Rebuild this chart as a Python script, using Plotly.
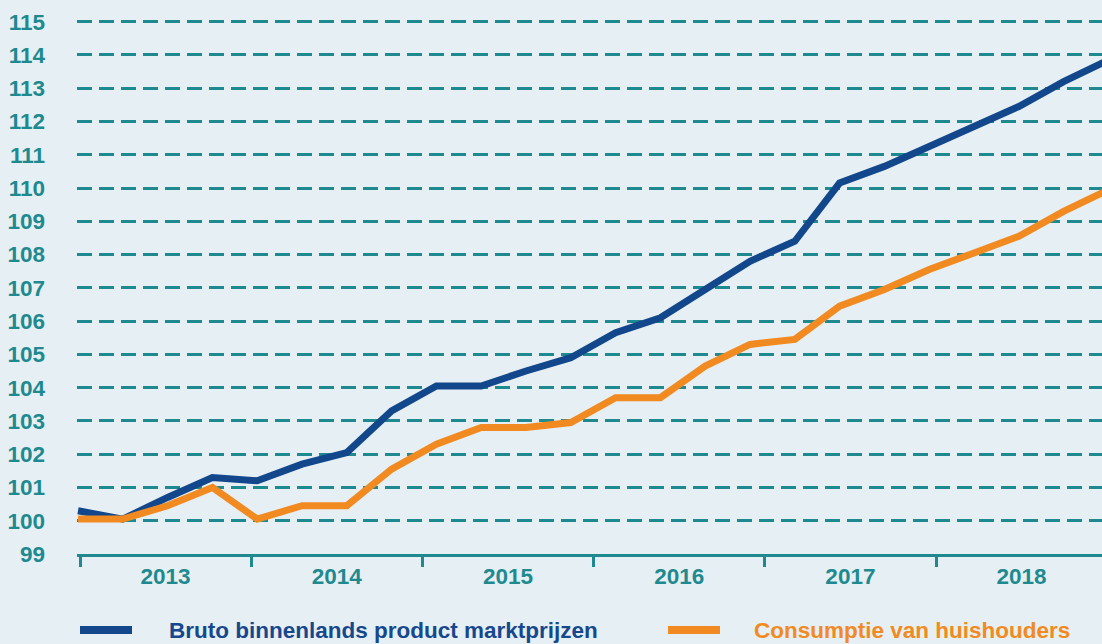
import plotly.graph_objects as go

# ---- data ----
quarters = list(range(24))  # 2013 Q1 ... 2018 Q4 (index)
years = ["2013", "2014", "2015", "2016", "2017", "2018"]
bbp = [100.3, 100.05, 100.7, 101.3, 101.2, 101.7, 102.05, 103.3,
       104.05, 104.05, 104.5, 104.9, 105.65, 106.1, 106.95, 107.8,
       108.4, 110.15, 110.65, 111.25, 111.85, 112.45, 113.2, 113.85]
cons = [100.05, 100.05, 100.45, 101.0, 100.05, 100.45, 100.45, 101.55,
        102.3, 102.8, 102.8, 102.95, 103.7, 103.7, 104.65, 105.3,
        105.45, 106.45, 106.95, 107.55, 108.05, 108.55, 109.3, 109.95]
ytick_vals = list(range(99, 116))
series_names = ["Bruto binnenlands product marktprijzen", "Consumptie van huishouders"]

# ---- style ----
W, H = 1102, 644
BG = "#E6EFF3"
TEAL = "#1E8A8F"
BLUE = "#12488B"
ORANGE = "#F28A22"
FONT = "Liberation Sans, Arial, sans-serif"

left_px, right_px = 77, 1102
top_px, bottom_px = 15, 554
first_pt_px = 78
q_px = 44.8          # pixel spacing of data points
yr_px = 171.2        # pixel width of a year on the category axis
yr_start_px = 80

plot_w = right_px - left_px
x_min = -(first_pt_px - left_px) / q_px
x_max = x_min + plot_w / q_px
x2_min = -0.5 - (yr_start_px - left_px) / yr_px
x2_max = x2_min + plot_w / yr_px

unit_px = 33.27
y_min = 99
y_max = y_min + (bottom_px - top_px) / unit_px

fig = go.Figure()
fig.add_trace(go.Scatter(x=quarters, y=bbp, mode="lines", name=series_names[0],
                         line=dict(color=BLUE, width=7), showlegend=False))
fig.add_trace(go.Scatter(x=quarters, y=cons, mode="lines", name=series_names[1],
                         line=dict(color=ORANGE, width=7), showlegend=False))
# carrier for the year category axis
fig.add_trace(go.Scatter(x=years, y=[y_min] * len(years), xaxis="x2", mode="none",
                         showlegend=False, hoverinfo="skip"))

fig.update_layout(
    width=W, height=H,
    margin=dict(l=0, r=0, t=0, b=0),
    paper_bgcolor=BG, plot_bgcolor=BG,
    font=dict(family=FONT, color=TEAL),
    xaxis=dict(domain=[left_px / W, right_px / W], range=[x_min, x_max],
               visible=False, showgrid=False, zeroline=False),
    xaxis2=dict(overlaying="x", anchor="y", side="bottom", type="category",
                categoryorder="array", categoryarray=years,
                domain=[left_px / W, right_px / W], range=[x2_min, x2_max],
                showgrid=False, zeroline=False, showline=True, linecolor=TEAL, linewidth=3,
                ticks="outside", tickson="boundaries", ticklen=10, tickwidth=3, tickcolor=TEAL,
                tickfont=dict(family=FONT, size=22.5, color=TEAL, weight="bold"),
                automargin=False),
    yaxis=dict(domain=[(H - bottom_px) / H, (H - top_px) / H], range=[y_min, y_max],
               tickvals=ytick_vals, showgrid=True, gridcolor=TEAL, gridwidth=3,
               griddash="15px,7px", zeroline=False, showline=False, ticks="",
               ticklabelstandoff=31,
               tickfont=dict(family=FONT, size=22.5, color=TEAL, weight="bold"),
               automargin=False),
)

# legend (drawn manually to match long legend keys)
legend_y = 1 - 630 / H
for name, color, txt_color, lx0, lx1, tx in [
        (series_names[0], BLUE, "#17478C", 80, 132, 167),
        (series_names[1], ORANGE, ORANGE, 668, 720, 752)]:
    fig.add_shape(type="line", xref="paper", yref="paper", x0=lx0 / W, x1=lx1 / W,
                  y0=legend_y, y1=legend_y, line=dict(color=color, width=8))
    fig.add_annotation(xref="paper", yref="paper", x=tx / W, y=legend_y,
                       xanchor="left", yanchor="middle", showarrow=False, text=name,
                       font=dict(family=FONT, size=22.5, color=txt_color, weight="bold"))

fig.write_html("out.html", config={"displayModeBar": False},
               post_script="document.body.style.margin='0';document.body.style.overflow='hidden';")
